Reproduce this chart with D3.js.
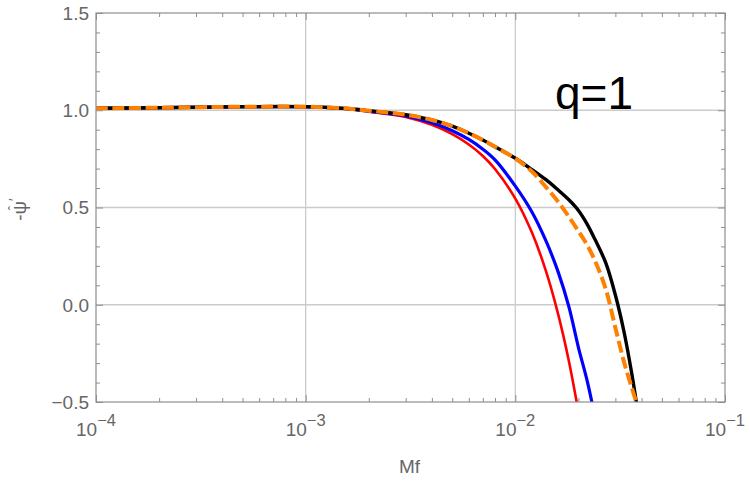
<!DOCTYPE html>
<html><head><meta charset="utf-8">
<script src="https://cdn.jsdelivr.net/npm/d3@7"></script>
<style>
html,body{margin:0;padding:0;background:#fff;}
svg{display:block;}
text{font-family:"Liberation Sans",Arial,Helvetica,sans-serif;}
</style></head>
<body>
<svg id="chart" width="750" height="484"></svg>
<script>
// ---- data ----
const mf = [1e-4, 2e-4, 5e-4, 1e-3, 1.5e-3, 2e-3, 3e-3, 4e-3, 5e-3, 6e-3, 7e-3, 8e-3, 1e-2,
            1.2e-2, 1.4e-2, 1.6e-2, 1.8e-2, 2e-2, 2.2e-2, 2.4e-2, 2.7e-2, 3e-2, 3.3e-2, 3.6e-2, 3.8e-2];
const redVals = [1.010, 1.013, 1.018, 1.018, 1.008, 0.993, 0.966, 0.925, 0.877, 0.824, 0.765, 0.698, 0.546,
            0.371, 0.173, -0.048, -0.289, -0.551, null, null, null, null, null, null, null];
const blueVals = [1.010, 1.013, 1.018, 1.018, 1.009, 0.995, 0.971, 0.936, 0.895, 0.850, 0.800, 0.745, 0.610,
            0.477, 0.328, 0.169, -0.010, -0.220, -0.390, -0.580, null, null, null, null, null];
const blackVals = [1.010, 1.013, 1.018, 1.018, 1.010, 0.998, 0.977, 0.950, 0.918, 0.882, 0.847, 0.812, 0.753,
            0.695, 0.643, 0.590, 0.540, 0.485, 0.415, 0.335, 0.215, 0.050, -0.140, -0.360, -0.520];
const orangeVals = [1.010, 1.013, 1.018, 1.018, 1.010, 0.998, 0.977, 0.950, 0.918, 0.882, 0.847, 0.812, 0.752,
            0.685, 0.605, 0.530, 0.452, 0.378, 0.307, 0.225, 0.080, -0.118, -0.295, -0.430, -0.510];
const xMajorTicks = [1e-4, 1e-3, 1e-2, 1e-1];
const xTickExps = ["\u22124", "\u22123", "\u22122", "\u22121"];
const yMajorTicks = [-0.5, 0.0, 0.5, 1.0, 1.5];
const yTickLabels = ["\u22120.5", "0.0", "0.5", "1.0", "1.5"];
const xGrid = [1e-3, 1e-2];
const yGrid = [0.0, 0.5, 1.0];
const annotation = "q=1";
const xTitle = "Mf";
const yTitleBase = "-\u03C8";
const yTitlePrime = "\u2032";
const yTitleHat = "\u02C6";

// ---- layout ----
const svg = d3.select("#chart");
const L = 96, R = 725, T = 13, B = 402;
const x = d3.scaleLog().domain([1e-4, 1e-1]).range([L, R]);
const y = d3.scaleLinear().domain([-0.5, 1.5]).range([B, T]);

const gridC = "#cbcbcb", frameC = "#8e8e8e", labelC = "#666666";

// grid
svg.append("g").selectAll("line").data(xGrid).join("line")
  .attr("x1", d => x(d)).attr("x2", d => x(d)).attr("y1", T).attr("y2", B)
  .attr("stroke", gridC).attr("stroke-width", 1.3);
svg.append("g").selectAll("line").data(yGrid).join("line")
  .attr("y1", d => y(d)).attr("y2", d => y(d)).attr("x1", L).attr("x2", R)
  .attr("stroke", gridC).attr("stroke-width", 1.3);

// ticks
const xMinor = [];
[1e-4, 1e-3, 1e-2].forEach(dec => { for (let k = 2; k <= 9; k++) xMinor.push(dec * k); });
const yMinor = d3.range(-5, 16).map(i => i / 10).filter(v => !yMajorTicks.some(m => Math.abs(m - v) < 1e-9));

function styleAxis(g){ g.select(".domain").remove(); g.selectAll("line").attr("stroke", frameC).attr("stroke-width", 1); }
svg.append("g").attr("transform", `translate(0,${B})`).call(d3.axisBottom(x).tickValues(xMinor).tickSize(-4).tickFormat("")).call(styleAxis);
svg.append("g").attr("transform", `translate(0,${T})`).call(d3.axisTop(x).tickValues(xMinor).tickSize(-4).tickFormat("")).call(styleAxis);
svg.append("g").attr("transform", `translate(0,${B})`).call(d3.axisBottom(x).tickValues(xMajorTicks).tickSize(-7).tickFormat("")).call(styleAxis);
svg.append("g").attr("transform", `translate(0,${T})`).call(d3.axisTop(x).tickValues(xMajorTicks).tickSize(-7).tickFormat("")).call(styleAxis);
svg.append("g").attr("transform", `translate(${L},0)`).call(d3.axisLeft(y).tickValues(yMinor).tickSize(-4).tickFormat("")).call(styleAxis);
svg.append("g").attr("transform", `translate(${R},0)`).call(d3.axisRight(y).tickValues(yMinor).tickSize(-4).tickFormat("")).call(styleAxis);
svg.append("g").attr("transform", `translate(${L},0)`).call(d3.axisLeft(y).tickValues(yMajorTicks).tickSize(-7).tickFormat("")).call(styleAxis);
svg.append("g").attr("transform", `translate(${R},0)`).call(d3.axisRight(y).tickValues(yMajorTicks).tickSize(-7).tickFormat("")).call(styleAxis);

// clip
svg.append("clipPath").attr("id", "clip").append("rect")
  .attr("x", L).attr("y", T - 5).attr("width", R - L).attr("height", B - T + 5);

const line = d3.line().defined(d => d[1] !== null)
  .x(d => x(d[0])).y(d => y(d[1])).curve(d3.curveCatmullRom.alpha(0.5));
const series = [
  {vals: redVals, color: "#ff0000", w: 2.6, dash: null},
  {vals: blueVals, color: "#0000ff", w: 3.2, dash: null},
  {vals: blackVals, color: "#000000", w: 3.4, dash: null},
  {vals: orangeVals, color: "#ff8000", w: 4, dash: "12,4.5"}
];
const pg = svg.append("g").attr("clip-path", "url(#clip)");
series.forEach(s => {
  pg.append("path").datum(mf.map((m, i) => [m, s.vals[i]]))
    .attr("d", line).attr("fill", "none").attr("stroke", s.color)
    .attr("stroke-width", s.w).attr("stroke-dasharray", s.dash);
});

// frame
svg.append("rect").attr("x", L).attr("y", T).attr("width", R - L).attr("height", B - T)
  .attr("fill", "none").attr("stroke", frameC).attr("stroke-width", 1.2);

// y tick labels
svg.append("g").selectAll("text").data(yMajorTicks).join("text")
  .attr("x", L - 7).attr("y", d => y(d)).attr("dy", "0.36em")
  .attr("text-anchor", "end").attr("font-size", 19).attr("fill", labelC)
  .text((d, i) => yTickLabels[i]);

// x tick labels
const xl = svg.append("g").selectAll("text").data(xMajorTicks).join("text")
  .attr("x", d => x(d)).attr("y", 436).attr("text-anchor", "middle")
  .attr("font-size", 19).attr("fill", labelC);
xl.append("tspan").text("10");
xl.append("tspan").attr("font-size", 16.5).attr("dy", -10).text((d, i) => xTickExps[i]);

// axis titles
svg.append("text").attr("x", (L + R) / 2 - 1).attr("y", 473).attr("text-anchor", "middle")
  .attr("font-size", 19).attr("fill", labelC).text(xTitle);
const yt = svg.append("g").attr("transform", `translate(26,${(T + B) / 2 + 2}) rotate(-90)`);
const ytt = yt.append("text").attr("text-anchor", "middle").attr("font-size", 19)
  .attr("fill", labelC).attr("font-family", "DejaVu Sans");
ytt.append("tspan").text(yTitleBase);
ytt.append("tspan").attr("font-size", 14).attr("dy", -7).text(yTitlePrime);
// hat over psi
yt.append("text").attr("x", 1.5).attr("y", -8).attr("text-anchor", "middle")
  .attr("font-size", 13).attr("fill", labelC).attr("font-family", "DejaVu Sans").text(yTitleHat);

// annotation
svg.append("text").attr("x", 555).attr("y", 109).attr("font-size", 46)
  .attr("fill", "#000").text(annotation);
</script>
</body></html>
